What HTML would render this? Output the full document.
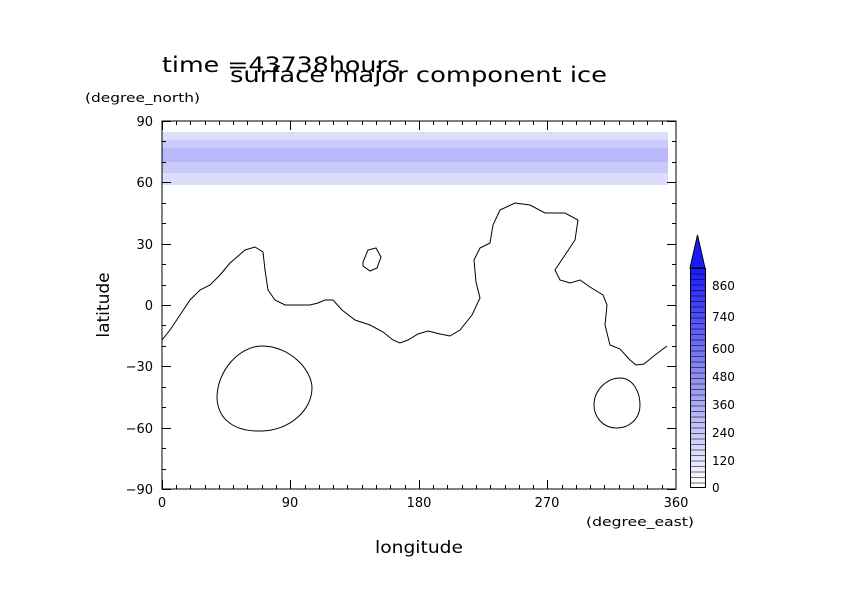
<!DOCTYPE html>
<html><head><style>body{margin:0;background:#fff}svg{display:block}text{font-family:"DejaVu Sans","Liberation Sans",sans-serif;fill:#000}</style></head><body>
<svg width="842" height="595" viewBox="0 0 842 595" xmlns="http://www.w3.org/2000/svg">
<rect width="842" height="595" fill="#fff"/>
<rect x="162" y="132" width="506" height="53" fill="#dcdcfc"/>
<rect x="162" y="140" width="506" height="33" fill="#cacafa"/>
<rect x="162" y="148" width="506" height="14" fill="#b8b8fa"/>
<g fill="none" stroke="#000" stroke-width="1">
<polyline points="162,340 170,330 180,315 190,300 200,290 210,285 220,275 230,263 245,250 255,247 263,252 265,270 268,290 275,300 285,305 310,305 318,303 325,300 333,300 342,310 355,320 370,325 383,332 393,340 400,343 408,340 418,334 428,331 440,334 450,336 460,330 472,315 480,298 476,282 474,260 480,248 490,243 493,225 500,210 515,203 530,205 545,213 565,213 578,220 575,240 565,255 555,270 560,280 570,283 580,280 590,287 603,295 607,305 605,325 610,345 620,349 630,360 636,365 644,364 655,355 667,346"/>
<polygon points="363,262 368,250 376,248 381,257 377,268 370,271 363,266"/>
<path d="M262,346 C290,346 312,370 312,388 C312,410 290,430 262,431 C235,432 218,420 217,398 C217,370 240,346 262,346 Z"/>
<path d="M620,378 C633,378 640,392 640,405 C640,420 628,428 617,428 C602,428 594,416 594,405 C594,390 607,378 620,378 Z"/>
<rect x="162" y="121" width="514" height="368"/>
</g>
<g stroke="#000" stroke-width="1">
<path d="M162.5,121v9M290.5,121v9M419.5,121v9M547.5,121v9M162.5,489v-9M290.5,489v-9M419.5,489v-9M547.5,489v-9M162,121.5h9M162,182.5h9M162,244.5h9M162,305.5h9M162,366.5h9M162,428.5h9M162,489.5h9M676,121.5h-9M676,182.5h-9M676,244.5h-9M676,305.5h-9M676,366.5h-9M676,428.5h-9M676,489.5h-9"/>
<path d="M176.5,121v4M190.5,121v4M205.5,121v4M219.5,121v4M233.5,121v4M247.5,121v4M262.5,121v4M276.5,121v4M305.5,121v4M319.5,121v4M333.5,121v4M347.5,121v4M362.5,121v4M376.5,121v4M390.5,121v4M405.5,121v4M433.5,121v4M447.5,121v4M462.5,121v4M476.5,121v4M490.5,121v4M505.5,121v4M519.5,121v4M533.5,121v4M562.5,121v4M576.5,121v4M590.5,121v4M604.5,121v4M619.5,121v4M633.5,121v4M647.5,121v4M662.5,121v4"/>
<path d="M176.5,489v-4M190.5,489v-4M205.5,489v-4M219.5,489v-4M233.5,489v-4M247.5,489v-4M262.5,489v-4M276.5,489v-4M305.5,489v-4M319.5,489v-4M333.5,489v-4M347.5,489v-4M362.5,489v-4M376.5,489v-4M390.5,489v-4M405.5,489v-4M433.5,489v-4M447.5,489v-4M462.5,489v-4M476.5,489v-4M490.5,489v-4M505.5,489v-4M519.5,489v-4M533.5,489v-4M562.5,489v-4M576.5,489v-4M590.5,489v-4M604.5,489v-4M619.5,489v-4M633.5,489v-4M647.5,489v-4M662.5,489v-4"/>
<path d="M162,141.5h4M162,162.5h4M162,203.5h4M162,223.5h4M162,264.5h4M162,285.5h4M162,325.5h4M162,346.5h4M162,387.5h4M162,407.5h4M162,448.5h4M162,469.5h4"/>
<path d="M676,141.5h-4M676,162.5h-4M676,203.5h-4M676,223.5h-4M676,264.5h-4M676,285.5h-4M676,325.5h-4M676,346.5h-4M676,387.5h-4M676,407.5h-4M676,448.5h-4M676,469.5h-4"/>
</g>
<g font-size="13" text-anchor="end">
<text x="153" y="126">90</text><text x="153" y="187">60</text><text x="153" y="249">30</text><text x="153" y="310">0</text><text x="153" y="371">−30</text><text x="153" y="433">−60</text><text x="153" y="494">−90</text>
</g>
<g font-size="13" text-anchor="middle">
<text x="162" y="507">0</text><text x="290" y="507">90</text><text x="419" y="507">180</text><text x="547" y="507">270</text><text x="676" y="507">360</text>
</g>
<text x="586" y="526" font-size="12" textLength="108" lengthAdjust="spacingAndGlyphs">(degree_east)</text>
<text x="85" y="102" font-size="12" textLength="115" lengthAdjust="spacingAndGlyphs">(degree_north)</text>
<text x="375" y="553" font-size="17" textLength="88" lengthAdjust="spacingAndGlyphs">longitude</text>
<text x="109" y="305" font-size="17" text-anchor="middle" transform="rotate(-90 109 305)">latitude</text>
<text x="162" y="72" font-size="21" textLength="238" lengthAdjust="spacingAndGlyphs">time =43738hours</text>
<text x="230" y="82" font-size="21" textLength="377" lengthAdjust="spacingAndGlyphs">surface major component ice</text>
<defs><linearGradient id="cb" x1="0" y1="1" x2="0" y2="0"><stop offset="0" stop-color="#fff"/><stop offset="0.5" stop-color="#9090f0"/><stop offset="1" stop-color="#1a1aff"/></linearGradient>
<pattern id="ln" width="15" height="5.5" patternUnits="userSpaceOnUse" y="268"><rect width="15" height="1" fill="#000" opacity="0.55"/></pattern></defs>
<polygon points="690,268 697.5,235 705,268" fill="#1a1aff" stroke="#000"/>
<rect x="690" y="268" width="15" height="219" fill="url(#cb)"/>
<rect x="690" y="268" width="15" height="219" fill="url(#ln)"/>
<rect x="690.5" y="268.5" width="15" height="219" fill="none" stroke="#000"/>
<g font-size="12">
<text x="712" y="492">0</text><text x="712" y="465">120</text><text x="712" y="437">240</text><text x="712" y="409">360</text><text x="712" y="381">480</text><text x="712" y="353">600</text><text x="712" y="321">740</text><text x="712" y="290">860</text>
</g>
</svg>
</body></html>
